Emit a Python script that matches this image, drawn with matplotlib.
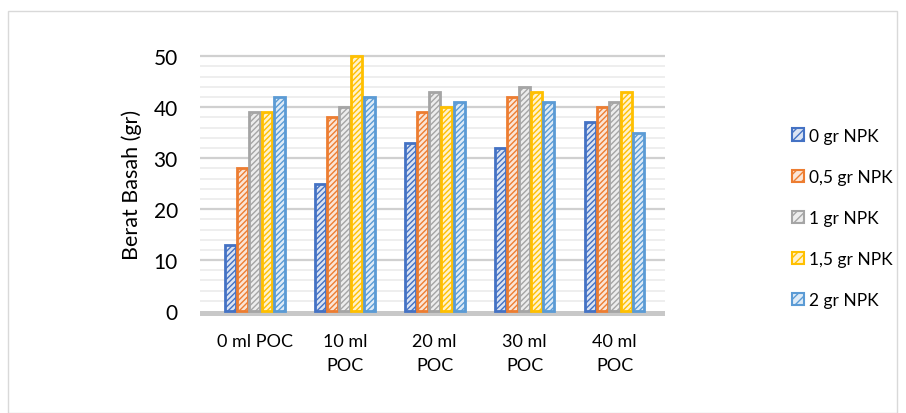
import numpy as np
import matplotlib.pyplot as plt
from matplotlib.patches import Rectangle, Patch

# data
categories = ['0 ml POC', '10 ml\nPOC', '20 ml\nPOC', '30 ml\nPOC', '40 ml\nPOC']
series = ['0 gr NPK', '0,5 gr NPK', '1 gr NPK', '1,5 gr NPK', '2 gr NPK']
values = [
    [13, 25, 33, 32, 37],
    [28, 38, 39, 42, 40],
    [39, 40, 43, 44, 41],
    [39, 50, 40, 43, 43],
    [42, 42, 41, 41, 35],
]
colors = ['#4472C4', '#ED7D31', '#A5A5A5', '#FFC000', '#5B9BD5']
faces = ['#DAE3F3', '#FBE5D6', '#EDEDED', '#FFF2CC', '#DEEBF7']

plt.rcParams['font.family'] = ['Lato', 'DejaVu Sans']
plt.rcParams['hatch.linewidth'] = 1.0

fig = plt.figure(figsize=(9.06, 4.14), dpi=100)
fig.patches.append(Rectangle((8/906, 0), 889/906, 1 - 12/414, transform=fig.transFigure,
                             fill=False, edgecolor='#D9D9D9', linewidth=1))

ax = fig.add_axes([200/906, 0.234, 465/906, 0.640])
x = np.arange(len(categories))
w = 0.122
step = 0.135

# gridlines: minor every 2, major every 10
for yv in np.arange(2, 51, 2):
    major = yv % 10 == 0
    ax.axhline(yv, color='#D0D0D0' if major else '#EBEBEB',
               linewidth=1.6 if major else 1.2, zorder=0)

# floor
ax.fill_between([-0.61, 4.56], -0.9, 0, color='#C8C8C8', zorder=1, linewidth=0)

for i, s in enumerate(series):
    ax.bar(x + (i - 2) * step, values[i], width=w, color=faces[i], edgecolor=colors[i],
           hatch='//////', linewidth=2.0, zorder=3)

ax.set_xlim(-0.61, 4.56)
ax.set_ylim(-1, 51)
ax.set_yticks(range(0, 51, 10))
ax.set_xticks(x)
ax.set_xticklabels(categories, fontsize=13, linespacing=1.6, va='top')
ax.tick_params(axis='both', length=0)
ax.tick_params(axis='y', labelsize=15, pad=16)
ax.tick_params(axis='x', pad=12)
for sp in ax.spines.values():
    sp.set_visible(False)
ax.set_ylabel('Berat Basah (gr)', fontsize=15.5, labelpad=8)

handles = [Patch(facecolor=faces[i], edgecolor=colors[i], hatch='////', linewidth=1.5, label=series[i])
           for i in range(len(series))]
fig.legend(handles=handles, loc='upper left', bbox_to_anchor=(776/906, 1 - 113/414),
           frameon=False, fontsize=12.5, handlelength=0.7, handleheight=0.7,
           handletextpad=0.3, labelspacing=1.45)

fig.savefig('out.png', dpi=100)
